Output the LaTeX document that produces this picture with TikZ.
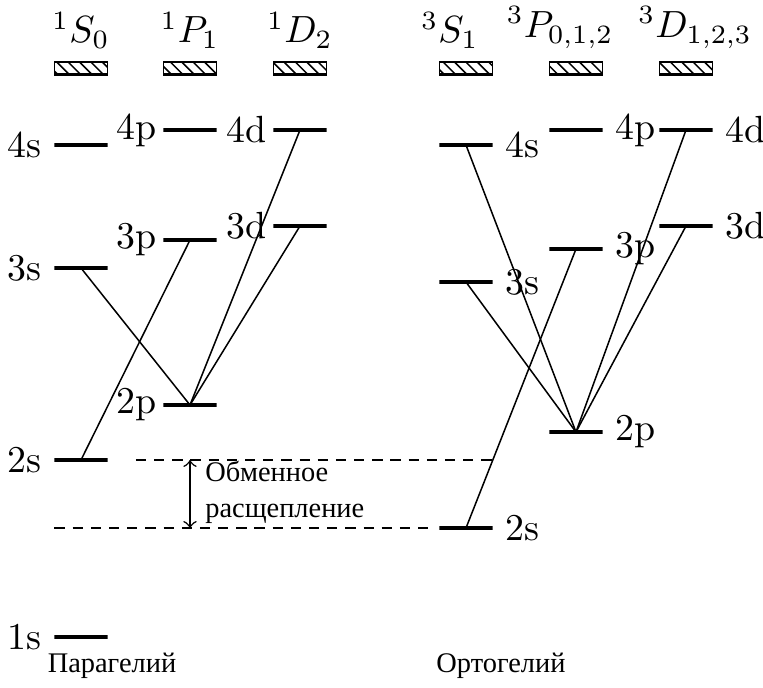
\documentclass[tikz,border=0pt]{standalone}
\usepackage{fontspec}
\newfontfamily\cyr{Liberation Serif}
\usetikzlibrary{patterns}

\begin{document}
\begin{tikzpicture}[x=0.264pt,y=-0.264pt,
      lvl/.style={draw,line width=0.8pt,minimum width=14pt,minimum height=0pt,
        inner sep=0pt,outer sep=0pt},
      term/.style={draw,pattern=north west lines,minimum width=14pt,
        minimum height=3.2pt,inner sep=0pt,outer sep=0pt},
      trans/.style={draw},
      split/.style={draw,dash pattern=on 2.7pt off 2.1pt},
      cyrtext/.style={font=\cyr\fontsize{7.5}{9.5}\selectfont,align=left}
    ]
      \useasboundingbox (0,0) rectangle (763,687);
      % parahelium
      \node[lvl,label={left:1s}] (p1s) at (81,637) {};
      \node[lvl,label={left:2s}] (p2s) at (81,460) {};
      \node[lvl,label={left:3s}] (p3s) at (81,268) {};
      \node[lvl,label={left:4s}] (p4s) at (81,145) {};
      \node[lvl,label={[label distance=-1.6pt]left:2p}] (p2p) at (190,405) {};
      \node[lvl,label={[label distance=-1.6pt]left:3p}] (p3p) at (190,240) {};
      \node[lvl,label={[label distance=-1.6pt]left:4p}] (p4p) at (190,130) {};
      \node[lvl,label={[label distance=-1.6pt]left:3d}] (p3d) at (300,226) {};
      \node[lvl,label={[label distance=-1.6pt]left:4d}] (p4d) at (300,130) {};
      % orthohelium
      \node[lvl,label={right:2s}] (o2s) at (466,528) {};
      \node[lvl,label={right:3s}] (o3s) at (466,282) {};
      \node[lvl,label={right:4s}] (o4s) at (466,145) {};
      \node[lvl,label={right:2p}] (o2p) at (576,432) {};
      \node[lvl,label={right:3p}] (o3p) at (576,249) {};
      \node[lvl,label={right:4p}] (o4p) at (576,130) {};
      \node[lvl,label={right:3d}] (o3d) at (686,226) {};
      \node[lvl,label={right:4d}] (o4d) at (686,130) {};
      % terms
      \node[term,label={above:$^1S_0$}] (tS0) at (81,68) {};
      \node[term,label={above:$^1P_1$}] (tP1) at (190,68) {};
      \node[term,label={above:$^1D_2$}] (tD2) at (300,68) {};
      \node[term,label={[xshift=-4.2pt]above:$^3S_1$}] (tS1) at (466,68) {};
      \node[term,label={[xshift=-4.2pt]above:$^3P_{0,1,2}$}] (tP012) at (576,68) {};
      \node[term,label={[xshift=2.4pt]above:$^3D_{1,2,3}$}] (tD123) at (686,68) {};
      \draw[line width=0.8pt] (tS0.south west) -- (tS0.south east);
      \draw[line width=0.8pt] (tP1.south west) -- (tP1.south east);
      \draw[line width=0.8pt] (tD2.south west) -- (tD2.south east);
      \draw[line width=0.8pt] (tS1.south west) -- (tS1.south east);
      \draw[line width=0.8pt] (tP012.south west) -- (tP012.south east);
      \draw[line width=0.8pt] (tD123.south west) -- (tD123.south east);
      % transitions
      \draw[trans] (p3s.center) -- (p2p.center);
      \draw[trans] (p2s.center) -- (p3p.center);
      \draw[trans] (p2p.center) -- (p4d.center);
      \draw[trans] (p2p.center) -- (p3d.center);
      \draw[trans] (o4s.center) -- (o2p.center);
      \draw[trans] (o3s.center) -- (o2p.center);
      \draw[trans] (o2s.center) -- (o3p.center);
      \draw[trans] (o2p.center) -- (o4d.center);
      \draw[trans] (o2p.center) -- (o3d.center);
      % exchange splitting
      \draw[split,shorten <=7.5pt] (p2s.east) -- (o2s.east |- p2s);
      \draw[split,shorten >=3pt] (p2s.west |- o2s) -- (o2s.west);
      \draw[<->] (p2p |- p2s) -- (p2p |- o2s);
      \node[cyrtext,anchor=west] (exch) at (192,492)
        {Обменное\\расщепление};
      \node[cyrtext] (para) at (112,666) {Парагелий};
      \node[cyrtext] (ortho) at (501,666) {Ортогелий};
    \end{tikzpicture}
\end{document}
